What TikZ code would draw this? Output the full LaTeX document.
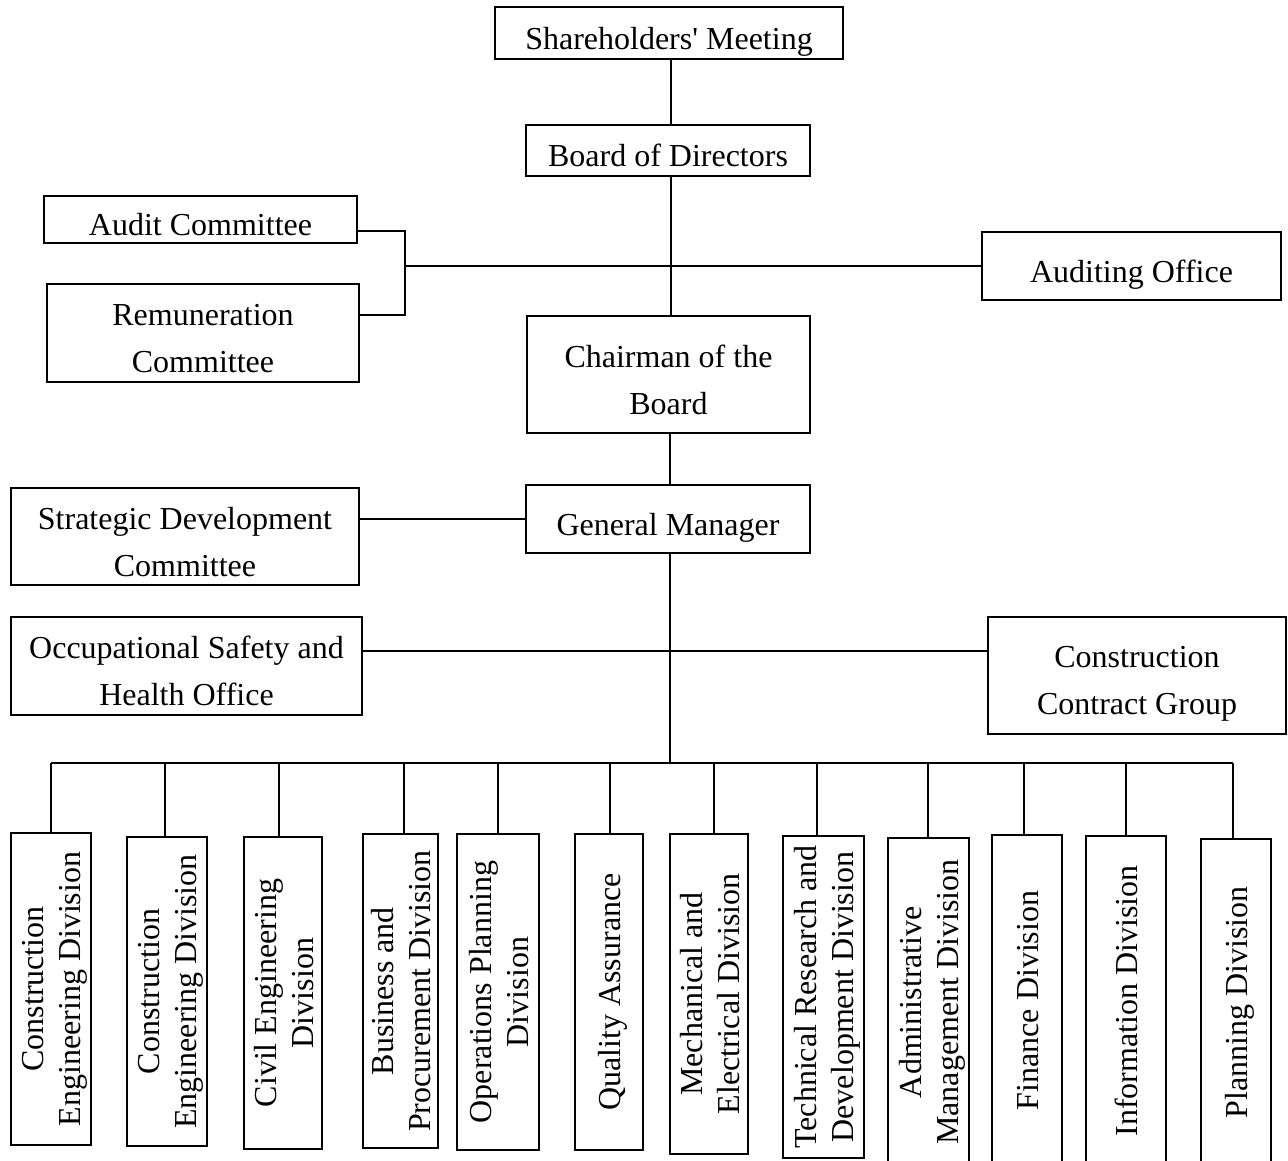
\documentclass[tikz,border=0pt]{standalone}
\usepackage{fontspec}
\setmainfont{Liberation Serif}
\newfontfamily\orgfont{Liberation Serif}
\usetikzlibrary{fit,calc}
\newcommand{\orgbox}[6]{%
  \node[box, fit={(#2,#3)(#4,#5)}] (#1) {};
  \node[htxt] (#1t) at ([yshift=-8.5pt]#1.center) {#6};}
\newcommand{\divbox}[6]{%
  \node[box, fit={(#2,#3)(#4,#5)}] (#1) {};
  \node[vtxt] (#1t) at ([xshift=4pt]#1.center) {#6};}
\tikzset{
  box/.style={draw=black, line width=2.4pt, inner sep=0pt, outer sep=0pt},
  htxt/.style={font=\orgfont\fontsize{32}{47}\selectfont, align=center, inner sep=0pt,
    execute at begin node={\rule{0pt}{22pt}}, execute at end node={\rule[-7pt]{0pt}{7pt}}},
  vtxt/.style={font=\orgfont\fontsize{32}{37}\selectfont, align=center, inner sep=0pt, rotate=90,
    execute at begin node={\rule{0pt}{22pt}}, execute at end node={\rule[-7pt]{0pt}{7pt}}},
  conn/.style={draw=black, line width=1.8pt},
}
\begin{document}
\begin{tikzpicture}[x=1pt,y=-1pt]
\useasboundingbox (0,0) rectangle (1288,1160);
\fill[white] (0,0) rectangle (1288,1160);
% upper part
\orgbox{sh}{495}{7}{843}{59}{Shareholders' Meeting}
\orgbox{bd}{526}{125}{810}{176}{Board of Directors}
\orgbox{ac}{44}{196}{357}{243}{Audit Committee}
\orgbox{rc}{47}{284}{359}{382}{Remuneration\\Committee}
\orgbox{ao}{982}{232}{1281}{300}{Auditing Office}
\orgbox{ch}{527}{316}{810}{433}{Chairman of the\\Board}
\orgbox{gm}{526}{485}{810}{553}{General Manager}
\orgbox{sd}{11}{488}{359}{585}{Strategic Development\\Committee}
\orgbox{os}{11}{617}{362}{715}{Occupational Safety and\\Health Office}
\orgbox{cc}{988}{617}{1286}{734}{Construction\\Contract Group}
% divisions
\divbox{d1}{11}{833}{91}{1145}{Construction\\Engineering Division}
\divbox{d2}{127}{837}{207}{1146}{Construction\\Engineering Division}
\divbox{d3}{244}{837}{322}{1149}{Civil Engineering\\Division}
\divbox{d4}{363}{834}{438}{1148}{Business and\\Procurement Division}
\divbox{d5}{457}{834}{539}{1150}{Operations Planning\\Division}
\divbox{d6}{575}{834}{643}{1150}{Quality Assurance}
\divbox{d7}{670}{834}{748}{1154}{Mechanical and\\Electrical Division}
\divbox{d8}{783}{836}{864}{1158}{Technical Research and\\Development Division}
\divbox{d9}{888}{838}{969}{1166}{Administrative\\Management Division}
\divbox{d10}{992}{835}{1062}{1166}{Finance Division}
\divbox{d11}{1086}{836}{1166}{1166}{Information Division}
\divbox{d12}{1201}{839}{1271}{1166}{Planning Division}
% junction coordinates
\coordinate (ja) at (405,231);
\coordinate (jb) at (405,315);
\coordinate (jm) at (405,266);
\coordinate (jo) at (670,651);
\coordinate (bl) at (51,763);
\coordinate (bc) at (670,763);
\coordinate (br) at (1233,763);
% connectors
\draw[conn] (sh.south -| 671,0) -- (bd.north -| 671,0);
\draw[conn, line width=2.4pt] (bd.south -| 671,0) -- (ch.north -| 671,0);
\draw[conn] (ac.east |- ja) -- (ja) -- (jb) -- (rc.east |- jb);
\draw[conn] (jm) -- (ao.west |- jm);
\draw[conn] (ch.south -| bc) -- (gm.north -| bc);
\draw[conn] (sd.east |- gm.west) -- (gm.west);
\draw[conn] (gm.south -| bc) -- (bc);
\draw[conn] (os.east |- jo) -- (cc.west |- jo);
\draw[conn] (bl) -- (br);
\foreach \n/\x in {d1/51,d2/165,d3/279,d4/404,d5/498,d6/610,d7/714,d8/817,d9/928,d10/1024,d11/1126,d12/1233}{
  \coordinate (t\n) at (\x,763);
  \draw[conn] (t\n) -- (t\n |- \n.north);
}
\end{tikzpicture}
\end{document}
